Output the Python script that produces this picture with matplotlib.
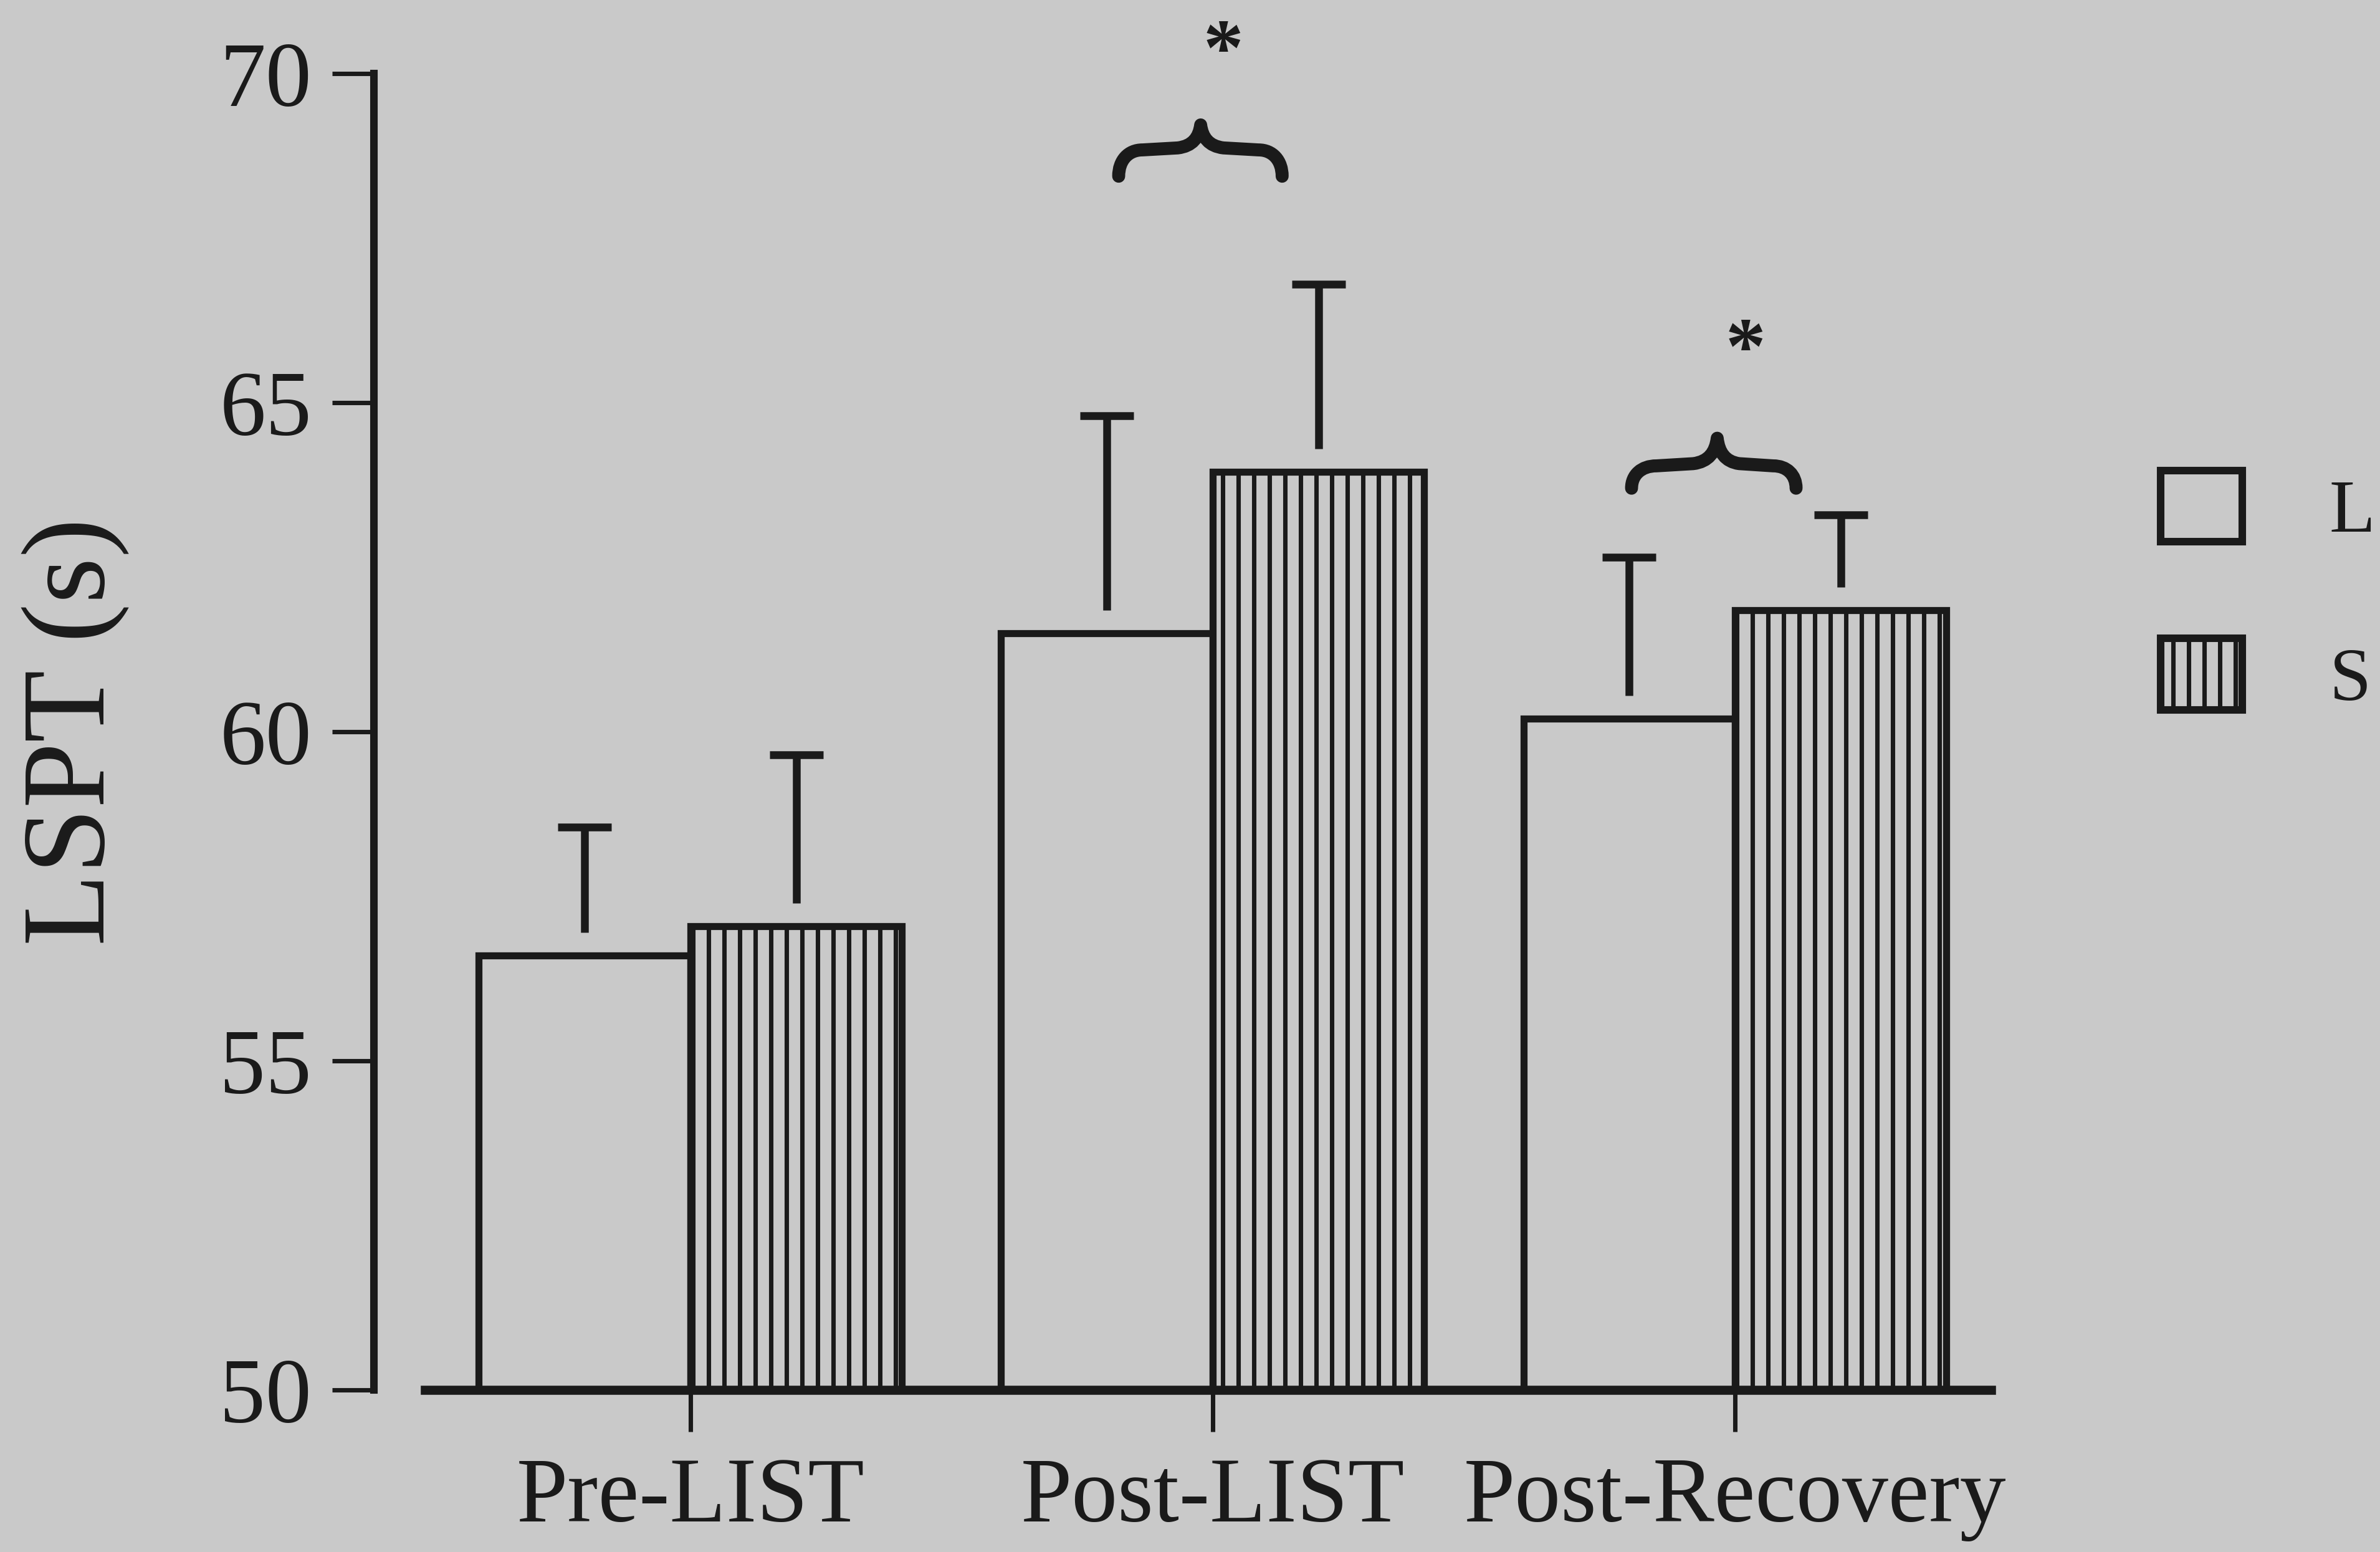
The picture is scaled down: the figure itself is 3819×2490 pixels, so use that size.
import matplotlib
matplotlib.use('Agg')
import matplotlib.pyplot as plt
import numpy as np
from matplotlib.path import Path
from matplotlib.patches import PathPatch, Patch

# ---- data ----
categories = ['Pre-LIST', 'Post-LIST', 'Post-Recovery']
mean_L = [56.6, 61.5, 60.2]
mean_S = [57.05, 63.95, 61.85]
sd_L = [1.95, 3.3, 2.45]
sd_S = [2.6, 2.85, 1.45]
series_labels = ['L', 'S']
yticks = [50, 55, 60, 65, 70]

# ---- style ----
plt.rcParams['font.family'] = ['Liberation Serif', 'DejaVu Serif']
plt.rcParams['hatch.linewidth'] = 3.4
BG = '#c9c9c9'
INK = '#1a1a1a'
plt.rcParams['hatch.color'] = INK

fig = plt.figure(figsize=(3819 / 150, 2490 / 150), dpi=150, facecolor=BG)
ax = fig.add_axes([0.1571, 0.1044, 0.6816, 0.8482], facecolor=BG)

x = np.arange(len(categories))
w = 0.405
lw = 5.4

ax.bar(x - w / 2, mean_L, w, color=BG, edgecolor=INK, linewidth=lw, zorder=2)
ax.bar(x + w / 2, mean_S, w, color=BG, edgecolor=INK, linewidth=lw,
       hatch='|', zorder=2)

# error bars: upward only, starting slightly above the bar top
gap = 0.35
for xs, m, s in ((x - w / 2, mean_L, sd_L), (x + w / 2, mean_S, sd_S)):
    m = np.asarray(m); s = np.asarray(s)
    ax.vlines(xs, m + gap, m + s, color=INK, linewidth=6, zorder=3)
    ax.plot(xs, m + s, linestyle='none', marker='_', markersize=41,
            markeredgewidth=6, color=INK, zorder=3)

ax.set_xlim(-0.606, 2.5)
ax.set_ylim(50, 70)
ax.set_yticks(yticks)
ax.set_xticks(x)
ax.set_xticklabels(categories)

for side in ('top', 'right'):
    ax.spines[side].set_visible(False)
ax.spines['left'].set_linewidth(5.8)
ax.spines['left'].set_color(INK)
ax.spines['bottom'].set_linewidth(7)
ax.spines['bottom'].set_color(INK)
ax.spines['bottom'].set_bounds(-0.508, 2.49)

ax.tick_params(axis='both', direction='out', length=32, width=3.4,
               color=INK, labelcolor=INK, labelsize=71)
ax.tick_params(axis='y', pad=16)
ax.tick_params(axis='x', pad=20)

ax.set_ylabel('LSPT (s)', fontsize=91, color=INK)
ax.yaxis.label.set_va('center')
ax.yaxis.set_label_coords(-0.1836, 0.5)


def brace(x0, xp, x1, y_end, y_arm, y_peak):
    dl = xp - x0
    dr = x1 - xp
    rxl = 0.29 * dl
    rxr = 0.29 * dr
    verts = [
        (x0, y_end),
        (x0, y_end + 0.6 * (y_arm - y_end)), (x0 + 0.4 * rxl, y_arm), (x0 + rxl, y_arm),
        (xp - 0.28 * dl, y_arm + 0.08 * (y_peak - y_arm)),
        (xp - 0.1 * dl, y_arm + 0.15 * (y_peak - y_arm)), (xp - 0.02 * dl, y_arm + 0.5 * (y_peak - y_arm)), (xp, y_peak),
        (xp + 0.02 * dr, y_arm + 0.5 * (y_peak - y_arm)), (xp + 0.1 * dr, y_arm + 0.15 * (y_peak - y_arm)), (xp + 0.28 * dr, y_arm + 0.08 * (y_peak - y_arm)),
        (x1 - rxr, y_arm),
        (x1 - 0.4 * rxr, y_arm), (x1, y_end + 0.6 * (y_arm - y_end)), (x1, y_end),
    ]
    codes = [Path.MOVETO,
             Path.CURVE4, Path.CURVE4, Path.CURVE4,
             Path.LINETO,
             Path.CURVE4, Path.CURVE4, Path.CURVE4,
             Path.CURVE4, Path.CURVE4, Path.CURVE4,
             Path.LINETO,
             Path.CURVE4, Path.CURVE4, Path.CURVE4]
    p = PathPatch(Path(verts, codes), fill=False, edgecolor=INK, linewidth=10,
                  capstyle='round', joinstyle='round', clip_on=False, zorder=4)
    ax.add_patch(p)


# significance braces and stars
brace(0.82, 0.977, 1.133, 68.44, 68.84, 69.22)
ax.text(1.02, 69.98, '*', fontsize=62, fontweight='bold', ha='center',
        va='baseline', color=INK, clip_on=False)
brace(1.802, 1.966, 2.117, 63.70, 64.04, 64.46)
ax.text(2.02, 65.45, '*', fontsize=62, fontweight='bold', ha='center',
        va='baseline', color=INK, clip_on=False)

# legend
handles = [Patch(facecolor=BG, edgecolor=INK, linewidth=5.8),
           Patch(facecolor=BG, edgecolor=INK, linewidth=5.8, hatch='|')]
fig.legend(handles, series_labels, loc='upper left',
           bbox_to_anchor=(3467 / 3819, 1 - 755 / 2490),
           bbox_transform=fig.transFigure, frameon=False, fontsize=58,
           handlelength=1.08, handleheight=1.08, labelspacing=1.2,
           handletextpad=1.16, borderpad=0, borderaxespad=0,
           labelcolor=INK)

fig.savefig('out.png', dpi=150, facecolor=BG)
